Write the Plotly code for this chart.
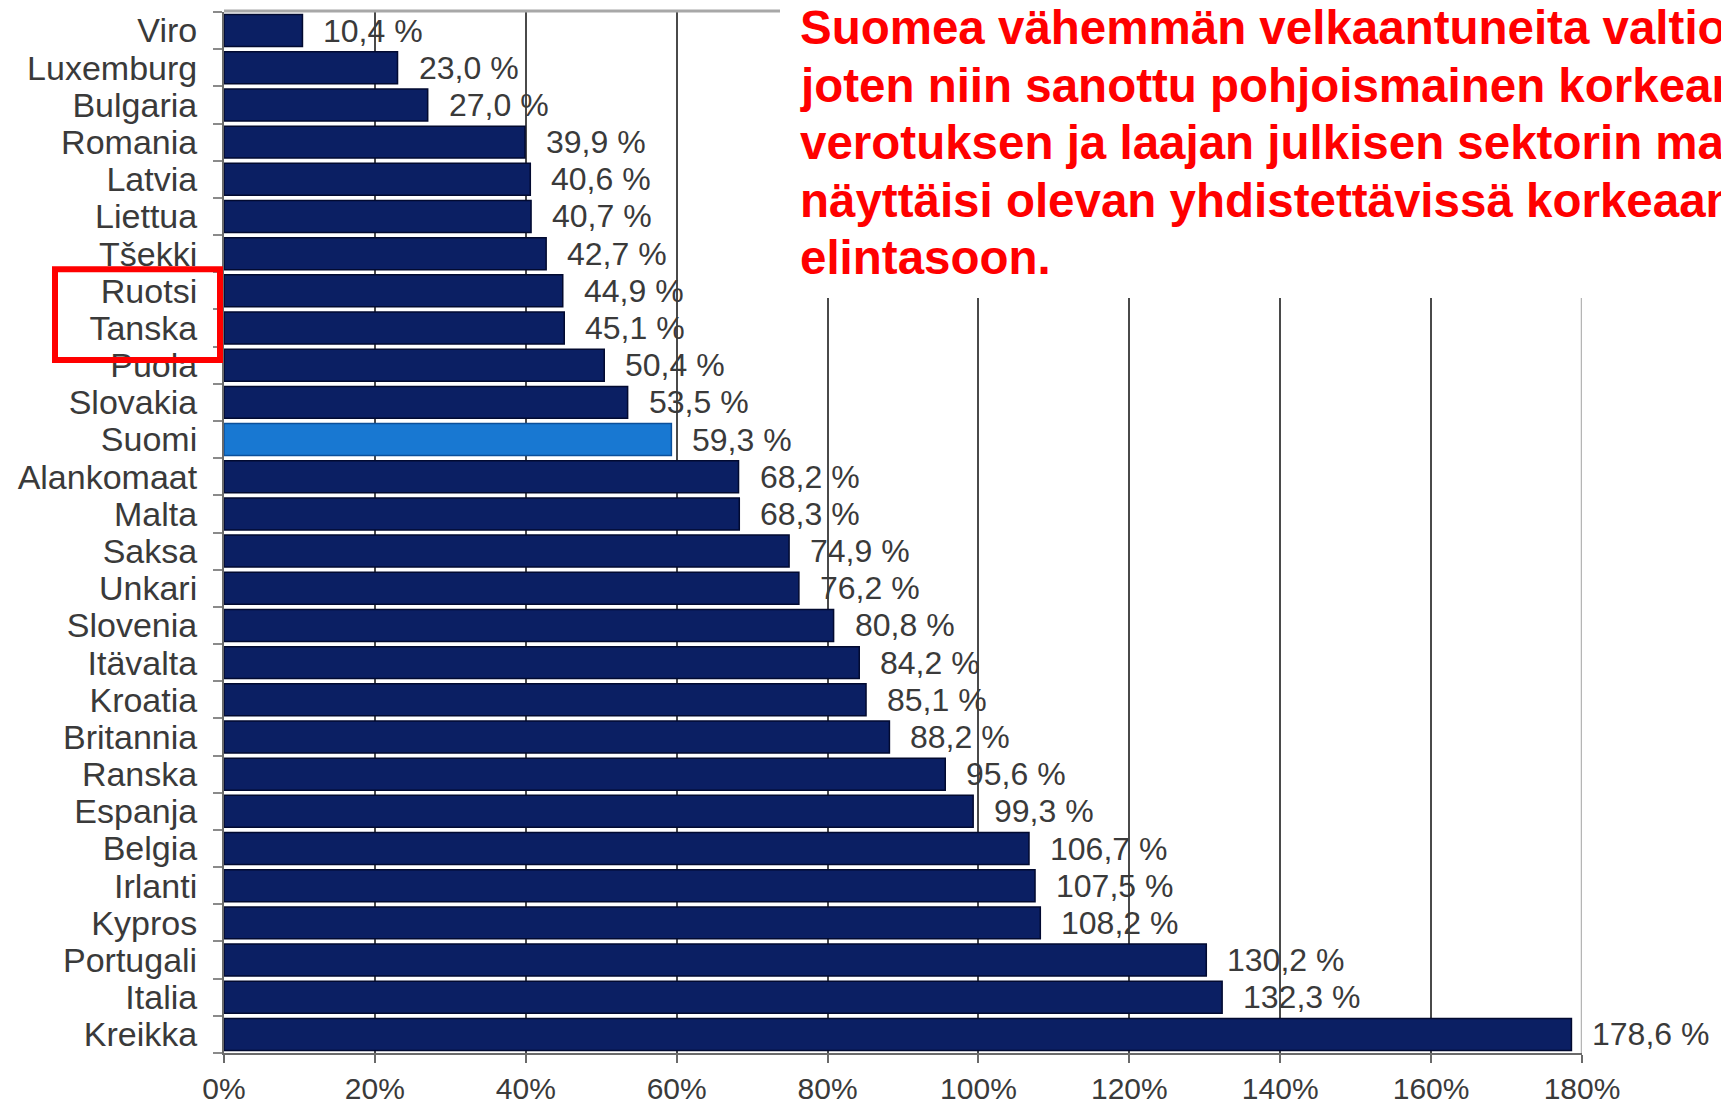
import plotly.graph_objects as go

countries = ["Viro", "Luxemburg", "Bulgaria", "Romania", "Latvia", "Liettua", "Tšekki",
             "Ruotsi", "Tanska", "Puola", "Slovakia", "Suomi", "Alankomaat", "Malta",
             "Saksa", "Unkari", "Slovenia", "Itävalta", "Kroatia", "Britannia", "Ranska",
             "Espanja", "Belgia", "Irlanti", "Kypros", "Portugali", "Italia", "Kreikka"]
debt_pct = [10.4, 23.0, 27.0, 39.9, 40.6, 40.7, 42.7, 44.9, 45.1, 50.4, 53.5, 59.3,
            68.2, 68.3, 74.9, 76.2, 80.8, 84.2, 85.1, 88.2, 95.6, 99.3, 106.7, 107.5,
            108.2, 130.2, 132.3, 178.6]
x_ticks = [0, 20, 40, 60, 80, 100, 120, 140, 160, 180]
x_tick_labels = ["0%", "20%", "40%", "60%", "80%", "100%", "120%", "140%", "160%", "180%"]
highlight = "Suomi"
boxed = ["Ruotsi", "Tanska"]
note_lines = [
    "Suomea vähemmän velkaantuneita valtioita",
    "joten niin sanottu pohjoismainen korkean",
    "verotuksen ja laajan julkisen sektorin malli",
    "näyttäisi olevan yhdistettävissä korkeaan",
    "elintasoon.",
]

FONT = "Liberation Sans, Arial, sans-serif"
NAVY = "#0b1f63"
BLUE = "#1878d2"

W, H = 1721, 1105
ML, MR, MT, MB = 224, 139, 12, 52
plot_h = H - MT - MB


def py(ypx):
    return (H - MB - ypx) / plot_h


def px(xpx):
    return (xpx - ML) / (W - ML - MR)


colors = [BLUE if c == highlight else NAVY for c in countries]
line_colors = ["#0b4f9a" if c == highlight else "#020a30" for c in countries]

fig = go.Figure()
fig.add_trace(go.Bar(
    x=debt_pct, y=countries, orientation="h", width=0.86,
    marker=dict(color=colors, line=dict(color=line_colors, width=1.5)),
    hoverinfo="skip",
))

annotations = []
for c, v in zip(countries, debt_pct):
    annotations.append(dict(
        x=v, y=c, xref="x", yref="y", xanchor="left", yanchor="middle",
        xshift=19, showarrow=False,
        text=f"{v:.1f}".replace(".", ",") + " %",
        font=dict(family=FONT, size=32, color="#3a3a3a"),
    ))

# red explanatory text, one annotation per line
line_centers_px = [28, 85, 142, 200, 257]
for t, yc in zip(note_lines, line_centers_px):
    annotations.append(dict(
        x=px(798), y=py(yc), xref="paper", yref="paper",
        xanchor="left", yanchor="middle", showarrow=False, text="<b>" + t + "</b>",
        font=dict(family=FONT, size=47.5, color="#ff0000"),
    ))

idx0 = countries.index(boxed[0])
idx1 = countries.index(boxed[-1])

shapes = [
    dict(type="line", xref="x", yref="paper", x0=180, x1=180, y0=0, y1=1,
         line=dict(color="#b5b5b5", width=2.5), layer="below"),
    dict(type="line", xref="paper", yref="paper", x0=0, x1=1, y0=1.001, y1=1.001,
         line=dict(color="#a8a8a8", width=3), layer="above"),
    dict(type="rect", xref="paper", yref="paper", x0=px(780), x1=1.2, y0=py(298), y1=1.05,
         fillcolor="white", line=dict(width=0), layer="above"),
    dict(type="rect", xref="paper", yref="y", x0=px(55), x1=px(220),
         y0=idx0 - 0.58, y1=idx1 + 0.86,
         line=dict(color="#ff0000", width=6), fillcolor="rgba(0,0,0,0)", layer="above"),
]

fig.update_layout(
    width=W, height=H,
    margin=dict(l=ML, r=MR, t=MT, b=MB, pad=0, autoexpand=False),
    paper_bgcolor="white", plot_bgcolor="white",
    showlegend=False, bargap=0.14,
    annotations=annotations, shapes=shapes,
    font=dict(family=FONT, color="#3a3a3a"),
)
fig.update_xaxes(
    range=[0, 180], tickmode="array", tickvals=x_ticks, ticktext=x_tick_labels,
    showgrid=True, gridcolor="#4a4a4a", gridwidth=2, zeroline=False,
    showline=True, linecolor="#6a6a6a", linewidth=2, automargin=False,
    ticks="outside", ticklen=8, tickwidth=2, tickcolor="#6a6a6a",
    tickfont=dict(family=FONT, size=30, color="#3a3a3a"), ticklabelstandoff=0,
)
fig.update_yaxes(
    type="category", categoryorder="array", categoryarray=countries,
    tickmode="array", tickvals=countries, ticktext=countries,
    range=[len(countries) - 0.5, -0.5], automargin=False,
    showgrid=False, zeroline=False,
    showline=True, linecolor="#6a6a6a", linewidth=2,
    ticks="outside", tickson="boundaries", ticklen=9, tickwidth=2, tickcolor="#8a8a8a",
    tickfont=dict(family=FONT, size=34, color="#3a3a3a"), ticklabelstandoff=18,
)

fig.write_html("out.html", config={"displayModeBar": False},
               post_script="document.body.style.margin='0';document.body.style.overflow='hidden';")
